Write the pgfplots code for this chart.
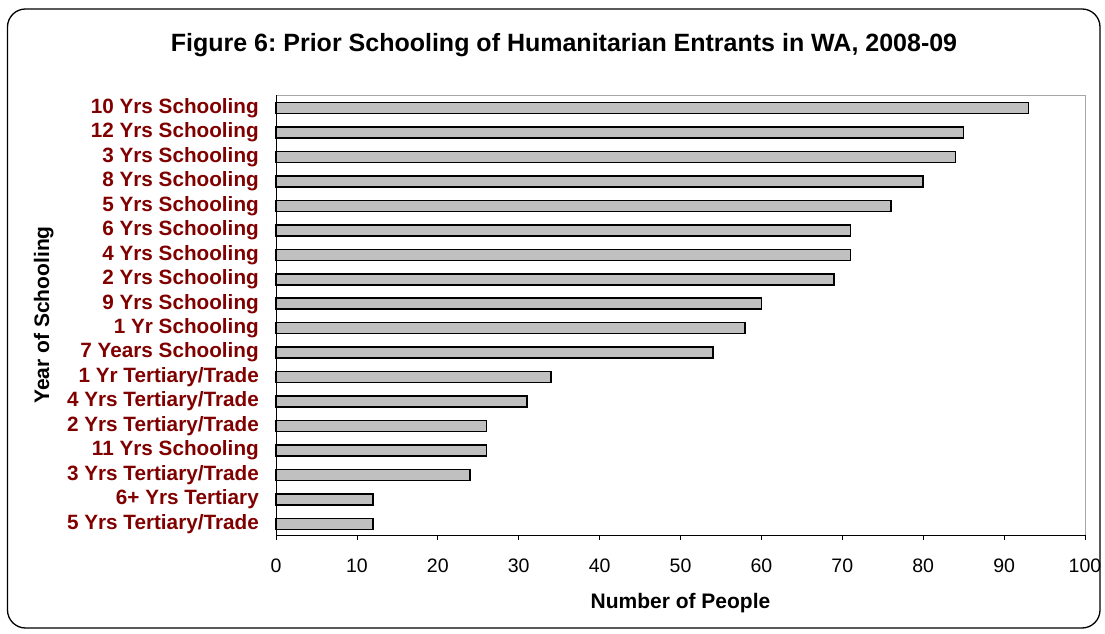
\documentclass[border=0pt]{standalone}
\usepackage{pgfplots}
\pgfplotsset{compat=1.18}
\usepackage{fontspec}
\setmainfont{Liberation Sans}
\frenchspacing
\definecolor{lab}{RGB}{128,0,0}
\definecolor{barfill}{RGB}{192,192,192}
\pgfplotstableread{
y v
0 12
1 12
2 24
3 26
4 26
5 31
6 34
7 54
8 58
9 60
10 69
11 71
12 71
13 76
14 80
15 84
16 85
17 93
}\datatable
\begin{document}
\begin{tikzpicture}[x=1pt,y=1pt]
\path (0,0) rectangle (1105,634);
\draw[line width=1.3pt, rounded corners=18pt] (7.5,6) rectangle (1100,625);
\node[font=\fontsize{25}{30}\selectfont\bfseries] at (564,589) {Figure 6: Prior Schooling of Humanitarian Entrants in WA, 2008-09};
\begin{axis}[
  at={(276pt,99pt)}, anchor=south west,
  scale only axis, width=809pt, height=440pt,
  xmin=0, xmax=100, ymin=-0.45, ymax=17.53,
  xtick={0,10,...,100},
  ytick={0,...,17},
  yticklabels={5 Yrs Tertiary/Trade,6+ Yrs Tertiary,3 Yrs Tertiary/Trade,11 Yrs Schooling,2 Yrs Tertiary/Trade,4 Yrs Tertiary/Trade,1 Yr Tertiary/Trade,7 Years Schooling,1 Yr Schooling,9 Yrs Schooling,2 Yrs Schooling,4 Yrs Schooling,6 Yrs Schooling,5 Yrs Schooling,8 Yrs Schooling,3 Yrs Schooling,12 Yrs Schooling,10 Yrs Schooling},
  axis line style={draw=none},
  xtick align=outside, xtick pos=bottom,
  major tick length=5pt,
  ytick style={draw=none},
  every tick/.style={black, line width=0.8pt},
  xticklabel style={font=\fontsize{19.5}{23}\selectfont, yshift=-15pt},
  yticklabel style={font=\fontsize{20.7}{24}\selectfont\bfseries, text=lab, inner sep=0pt, xshift=-17pt},
  /pgf/number format/assume math mode=true,
  xlabel={Number of People},
  ylabel={Year of Schooling},
  every axis x label/.style={at={(axis description cs:0.5,-0.155)}, anchor=center, font=\fontsize{21}{25}\selectfont\bfseries},
  every axis y label/.style={at={(axis description cs:-0.287,0.5)}, rotate=90, anchor=center, font=\fontsize{21}{25}\selectfont\bfseries},
  clip=false,
]
\addplot[xbar, bar width=11pt, fill=barfill, draw=black, line width=1.5pt] table[x=v, y=y] {\datatable};
\draw[gray!70, line width=0.8pt] (rel axis cs:0,1) -- (rel axis cs:1,1) -- (rel axis cs:1,0);
\draw[black, line width=0.9pt] (rel axis cs:0,1) -- (rel axis cs:0,0) -- (rel axis cs:1,0);
\end{axis}
\end{tikzpicture}
\end{document}
